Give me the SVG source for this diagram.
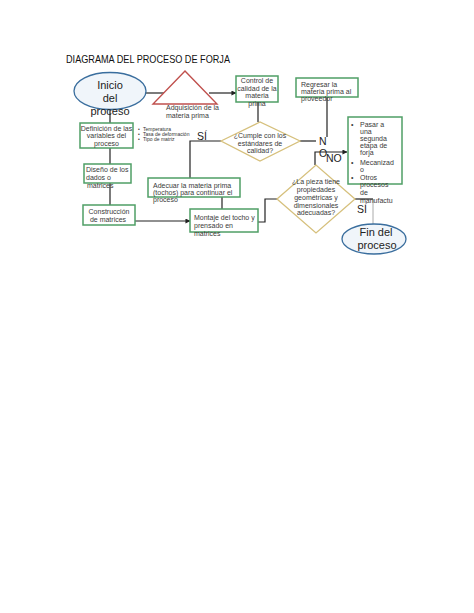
<svg xmlns="http://www.w3.org/2000/svg" width="474" height="613" viewBox="0 0 474 613">
<defs>
<style>
.box{fill:#ffffff;stroke:#4f9f66;stroke-width:1.5}
.dia{fill:#ffffff;stroke:#d6c07c;stroke-width:1.3}
.ell{fill:#f0f5fa;stroke:#3a6e9e;stroke-width:1.3}
.tri{fill:#ffffff;stroke:#c0504d;stroke-width:1.4}
.t{font-family:"Liberation Sans",Arial,sans-serif;font-size:7px;fill:#3a3a3a}
.tc{text-anchor:middle}
.big{font-family:"Liberation Sans",Arial,sans-serif;font-size:11px;fill:#222;text-anchor:middle}
.lbl{font-family:"Liberation Sans",Arial,sans-serif;font-size:10.5px;fill:#222}
.tiny{font-family:"Liberation Sans",Arial,sans-serif;font-size:5px;fill:#333}
.c{fill:none;stroke:#222;stroke-width:1.2}
</style>
<marker id="ah" viewBox="0 0 6 6" refX="5.5" refY="3" markerWidth="5" markerHeight="5" orient="auto" markerUnits="userSpaceOnUse">
<path d="M0,0 L6,3 L0,6 z" fill="#222"/>
</marker>
</defs>
<rect width="474" height="613" fill="#ffffff"/>
<text x="66" y="63" font-family="'Liberation Sans',Arial,sans-serif" font-size="10.5" fill="#111" textLength="164" lengthAdjust="spacingAndGlyphs">DIAGRAMA DEL PROCESO DE FORJA</text>

<g id="connectors">
<line class="c" x1="145" y1="93" x2="164" y2="93"/>
<line class="c" x1="209" y1="93" x2="236" y2="93" marker-end="url(#ah)"/>
<line class="c" x1="258" y1="102" x2="258" y2="122"/>
<line class="c" x1="300" y1="141" x2="316" y2="141"/>
<line class="c" x1="327" y1="97" x2="327" y2="137"/>
<polyline class="c" points="315,165 315,152 347,152" marker-end="url(#ah)"/>
<polyline class="c" points="221,141 190,141 190,178"/>
<line class="c" x1="222" y1="197" x2="222" y2="209"/>
<polyline class="c" points="258,222 265,222 265,199 277,199"/>
<line class="c" x1="355" y1="199" x2="373" y2="199"/>
<line x1="373" y1="199" x2="373" y2="224" stroke="#aaaaaa" stroke-width="1"/>
<line class="c" x1="110" y1="109" x2="110" y2="123"/>
<line class="c" x1="110" y1="148" x2="110" y2="164"/>
<line class="c" x1="110" y1="183" x2="110" y2="205"/>
<line class="c" x1="135" y1="221" x2="190" y2="221" marker-end="url(#ah)"/>
</g>

<g id="inicio">
<ellipse class="ell" cx="110" cy="91" rx="36" ry="18.5"/>
<text class="big" x="110" y="88.5">Inicio</text>
<text class="big" x="110" y="101.5">del</text>
<text class="big" x="110" y="114.5">proceso</text>
</g>

<g id="adquisicion">
<polygon class="tri" points="185,71 217,104 153,104"/>
<text class="t" x="166" y="110">Adquisición de la</text>
<text class="t" x="166" y="117.5">materia prima</text>
</g>

<g id="control">
<rect class="box" x="236" y="76" width="42" height="26"/>
<text class="t tc" x="257" y="83">Control de</text>
<text class="t tc" x="257" y="90.5">calidad de la</text>
<text class="t tc" x="257" y="98">materia</text>
<text class="t tc" x="257" y="105.5">prima</text>
</g>

<g id="cumple">
<polygon class="dia" points="221,141 260,122 300,141 260,161"/>
<text class="t tc" x="260" y="138">¿Cumple con los</text>
<text class="t tc" x="260" y="145.5">estándares de</text>
<text class="t tc" x="260" y="153">calidad?</text>
</g>

<g id="regresar">
<rect class="box" x="296" y="78" width="62" height="19"/>
<text class="t" x="301" y="86.5">Regresar la</text>
<text class="t" x="301" y="94">materia prima al</text>
<text class="t" x="301" y="101">proveedor</text>
</g>

<g id="labels">
<text class="lbl" x="319" y="145">N</text>
<text class="lbl" x="319" y="157">O</text>
<text class="lbl" x="326" y="162">NO</text>
<text class="lbl" x="197" y="140">SÍ</text>
<text class="lbl" x="357" y="213">SÍ</text>
</g>

<g id="opciones">
<rect class="box" x="348" y="117" width="54" height="67"/>
<text class="t" x="351" y="127">•</text>
<text class="t" x="360" y="127">Pasar a</text>
<text class="t" x="360" y="134">una</text>
<text class="t" x="360" y="141">segunda</text>
<text class="t" x="360" y="148">etapa de</text>
<text class="t" x="360" y="155">forja</text>
<text class="t" x="351" y="165">•</text>
<text class="t" x="360" y="165">Mecanizad</text>
<text class="t" x="360" y="172">o</text>
<text class="t" x="351" y="180">•</text>
<text class="t" x="360" y="180">Otros</text>
<text class="t" x="360" y="187">procesos</text>
<text class="t" x="360" y="195">de</text>
<text class="t" x="360" y="202.5">manufactu</text>
</g>

<g id="pieza">
<polygon class="dia" points="277,199 316,165 355,199 316,233"/>
<text class="t tc" x="316" y="184">¿La pieza tiene</text>
<text class="t tc" x="316" y="191.5">propiedades</text>
<text class="t tc" x="316" y="199.5">geométricas y</text>
<text class="t tc" x="316" y="207.5">dimensionales</text>
<text class="t tc" x="316" y="215">adecuadas?</text>
</g>

<g id="fin">
<ellipse class="ell" cx="374" cy="239" rx="32" ry="15"/>
<text class="big" x="376" y="236">Fin del</text>
<text class="big" x="377" y="249">proceso</text>
</g>

<g id="definicion">
<rect class="box" x="80" y="123" width="53" height="25"/>
<text class="t tc" x="106.5" y="130.5">Definición de las</text>
<text class="t tc" x="106.5" y="138">variables del</text>
<text class="t tc" x="106.5" y="145.5">proceso</text>
</g>

<g id="variables">
<text class="tiny" x="138" y="131">•</text>
<text class="tiny" x="143" y="131">Temperatura</text>
<text class="tiny" x="138" y="136">•</text>
<text class="tiny" x="143" y="136">Tasa de deformación</text>
<text class="tiny" x="138" y="141">•</text>
<text class="tiny" x="143" y="141">Tipo de matriz</text>
</g>

<g id="diseno">
<rect class="box" x="84" y="164" width="47" height="19"/>
<text class="t" x="86" y="172">Diseño de los</text>
<text class="t" x="86" y="180">dados o</text>
<text class="t" x="87" y="187.5">matrices</text>
</g>

<g id="construccion">
<rect class="box" x="83" y="205" width="52" height="20"/>
<text class="t tc" x="109" y="214">Construcción</text>
<text class="t tc" x="108" y="221.5">de matrices</text>
</g>

<g id="adecuar">
<rect class="box" x="148" y="178" width="92" height="19"/>
<text class="t" x="153" y="187.5">Adecuar la materia prima</text>
<text class="t" x="153" y="195">(tochos) para continuar el</text>
<text class="t" x="153" y="202">proceso</text>
</g>

<g id="montaje">
<rect class="box" x="190" y="209" width="68" height="23"/>
<text class="t" x="194" y="219.5">Montaje del tocho y</text>
<text class="t" x="194" y="228">prensado en</text>
<text class="t" x="194" y="235.5">matrices</text>
</g>
</svg>
